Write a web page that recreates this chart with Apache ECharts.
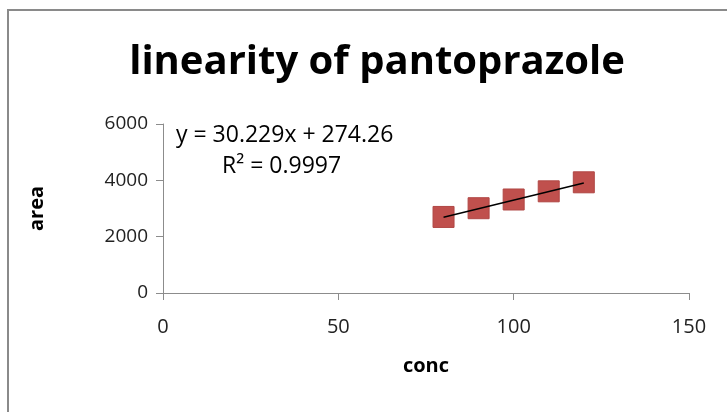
<!DOCTYPE html>
<html><head><meta charset="utf-8">
<script src="https://cdn.jsdelivr.net/npm/echarts@6/dist/echarts.min.js"></script>
<style>html,body{margin:0;padding:0;background:#fff}#c{width:727px;height:412px}</style>
</head><body><div id="c"></div>
<script>
const conc = [80, 90, 100, 110, 120];
const area = [2700, 3010, 3320, 3610, 3930];
const slope = 30.229, intercept = 274.26;
const trendX = [80, 120];
const xTicks = [0, 50, 100, 150];
const yTicks = [0, 2000, 4000, 6000];

const chart = echarts.init(document.getElementById('c'));
const font = '"Open Sans", "Liberation Sans", sans-serif';
chart.setOption({
  animation: false,
  backgroundColor: '#fff',
  title: {
    text: 'linearity of pantoprazole', left: 372, top: 38, textAlign: 'center',
    textStyle: {fontFamily: font, fontWeight: 'bold', fontSize: 40, color: '#000'}
  },
  grid: {left: 163, right: 38, top: 124, bottom: 119},
  xAxis: {
    type: 'value', min: xTicks[0], max: xTicks[xTicks.length - 1], interval: 50,
    name: 'conc', nameLocation: 'middle', nameGap: 63,
    nameTextStyle: {fontFamily: font, fontWeight: 'bold', fontSize: 20, color: '#000'},
    axisLine: {show: true, onZero: false, lineStyle: {color: '#8c8c8c'}},
    axisTick: {show: true, length: 7, lineStyle: {color: '#8c8c8c'}},
    axisLabel: {fontFamily: font, fontSize: 20, color: '#222', margin: 24},
    splitLine: {show: false}
  },
  yAxis: {
    type: 'value', min: yTicks[0], max: yTicks[yTicks.length - 1], interval: 2000,
    name: 'area', nameLocation: 'middle', nameGap: 116, nameRotate: 90,
    nameTextStyle: {fontFamily: font, fontWeight: 'bold', fontSize: 20, color: '#000'},
    axisLine: {show: true, lineStyle: {color: '#8c8c8c'}},
    axisTick: {show: true, length: 7, lineStyle: {color: '#8c8c8c'}},
    axisLabel: {fontFamily: font, fontSize: 19, color: '#222', margin: 15, formatter: v => String(v)},
    splitLine: {show: false}
  },
  graphic: [
    {type: 'rect', shape: {x: 8, y: 10, width: 800, height: 500}, style: {fill: 'none', stroke: '#8a8a8a', lineWidth: 2}, silent: true},
    {type: 'text', left: 176, top: 124, style: {text: 'y = 30.229x + 274.26', font: '23px "Open Sans", sans-serif', fill: '#000'}},
    {type: 'text', left: 222, top: 155, style: {text: 'R² = 0.9997', font: '23px "Open Sans", sans-serif', fill: '#000'}}
  ],
  series: [
    {
      type: 'scatter', data: conc.map((c, i) => [c, area[i]]),
      symbol: 'rect', symbolSize: 21,
      itemStyle: {color: '#c0504d', opacity: 1, borderColor: '#b04744', borderWidth: 1}
    },
    {
      type: 'line', data: trendX.map(x => [x, slope * x + intercept]),
      symbol: 'none', lineStyle: {color: '#000', width: 1.5}, z: 3
    }
  ]
});
</script></body></html>
